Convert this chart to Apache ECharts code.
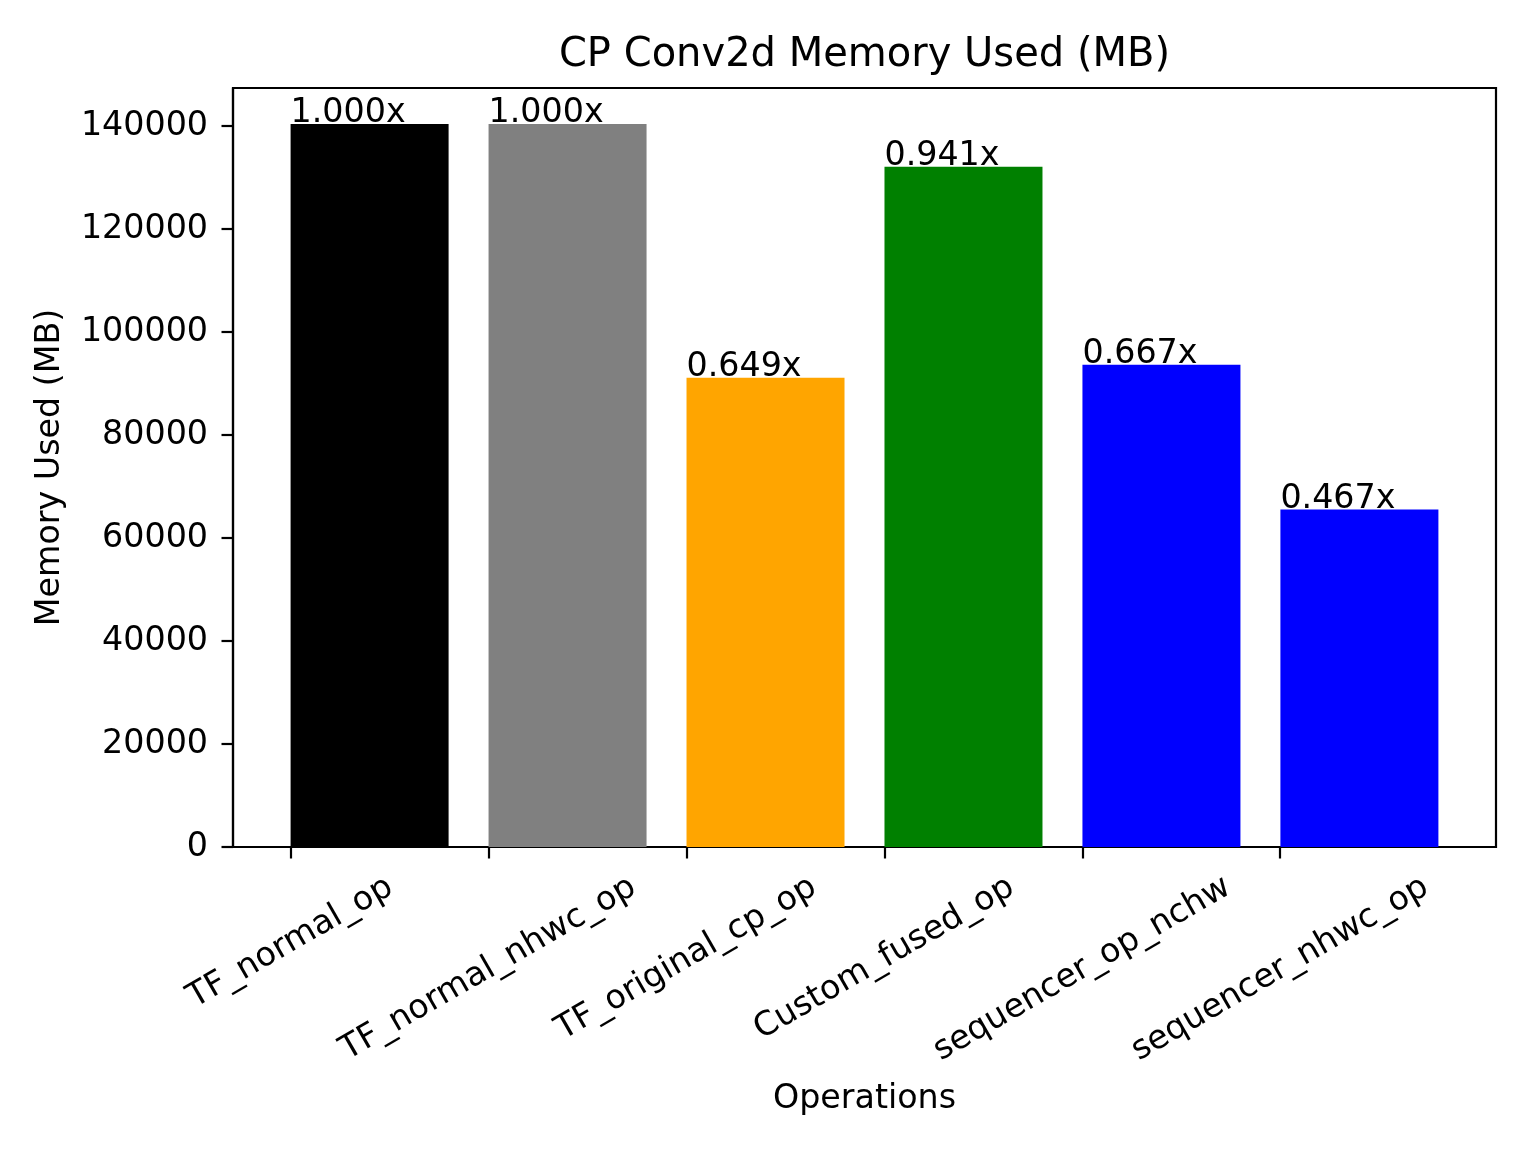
<!DOCTYPE html>
<html>
<head>
<meta charset="utf-8">
<script src="https://cdn.jsdelivr.net/npm/echarts@6/dist/echarts.min.js"></script>
<style>
  html, body { margin: 0; padding: 0; background: #fff; }
  #main { width: 1536px; height: 1152px; }
</style>
</head>
<body>
<div id="main"></div>
<script>
const operations = ['TF_normal_op', 'TF_normal_nhwc_op', 'TF_original_cp_op', 'Custom_fused_op', 'sequencer_op_nchw', 'sequencer_nhwc_op']
const memoryUsed = [140390, 140390, 91110, 132100, 93640, 65560]
const ratioLabels = ['1.000x', '1.000x', '0.649x', '0.941x', '0.667x', '0.467x']
const barColors = ['#000000', '#808080', '#ffa500', '#008000', '#0000ff', '#0000ff']
const yTicks = [0, 20000, 40000, 60000, 80000, 100000, 120000, 140000]
const xTicks = [0, 1, 2, 3, 4, 5]

const FONT = 'DejaVu Sans'
const FS = 33.3
const TITLE_FS = 40
const TITLE = 'CP Conv2d Memory Used (MB)'

const ctx = document.createElement('canvas').getContext('2d')

// matplotlib centres rotated tick labels on the tick; shift each one with padding
ctx.font = FS + 'px "' + FONT + '"'
const rich = {}
operations.forEach((name, i) => {
  const w = ctx.measureText(name).width
  rich['l' + i] = {
    fontFamily: FONT,
    fontSize: FS,
    color: '#000',
    padding: [0.433 * w, 0.25 * w, 0, 0]
  }
})

// title centred over the plot area (233..1496)
ctx.font = TITLE_FS + 'px "' + FONT + '"'
const titleW = ctx.measureText(TITLE).width
const titleLeft = (233 + 1496) / 2 - titleW / 2

const chart = echarts.init(document.getElementById('main'))

const option = {
  animation: false,
  textStyle: { fontFamily: FONT },
  title: {
    text: TITLE,
    left: titleLeft,
    top: 36,
    padding: 0,
    textAlign: 'left',
    textStyle: { fontFamily: FONT, fontSize: TITLE_FS, fontWeight: 'normal', color: '#000' }
  },
  grid: {
    left: 233,
    right: 40,
    top: 88,
    bottom: 305,
    show: true,
    borderColor: '#000',
    borderWidth: 2.2,
    backgroundColor: 'transparent'
  },
  xAxis: {
    type: 'value',
    min: -0.29,
    max: 6.09,
    name: 'Operations',
    nameLocation: 'middle',
    nameGap: 236,
    nameTextStyle: { fontFamily: FONT, fontSize: FS, color: '#000', verticalAlign: 'top' },
    splitLine: { show: false },
    axisLine: { show: true, onZero: false, lineStyle: { color: '#000', width: 2.2 } },
    axisTick: { show: true, length: 11.5, lineStyle: { color: '#000', width: 2.2 }, customValues: xTicks },
    axisLabel: {
      customValues: xTicks,
      rotate: 30,
      align: 'center',
      verticalAlign: 'middle',
      margin: 38,
      fontFamily: FONT,
      fontSize: FS,
      color: '#000',
      formatter: v => {
        const i = Math.round(v)
        return '{l' + i + '|' + operations[i] + '}'
      },
      rich: rich
    }
  },
  yAxis: {
    type: 'value',
    min: 0,
    max: 147400,
    name: 'Memory Used (MB)',
    nameLocation: 'middle',
    nameGap: 166,
    nameTextStyle: { fontFamily: FONT, fontSize: FS, color: '#000' },
    splitLine: { show: false },
    axisLine: { show: true, onZero: false, lineStyle: { color: '#000', width: 2.2 } },
    axisTick: { show: true, length: 11.5, lineStyle: { color: '#000', width: 2.2 }, customValues: yTicks },
    axisLabel: {
      customValues: yTicks,
      margin: 25,
      fontFamily: FONT,
      fontSize: FS,
      color: '#000',
      formatter: v => String(v)
    }
  },
  series: [
    {
      type: 'bar',
      barWidth: 158,
      data: memoryUsed.map((v, i) => ({
        value: [i + 0.4, v],
        itemStyle: { color: barColors[i] },
        label: { formatter: ratioLabels[i] }
      })),
      label: {
        show: true,
        position: [0, 6],
        align: 'left',
        verticalAlign: 'bottom',
        fontFamily: FONT,
        fontSize: FS,
        color: '#000'
      }
    }
  ]
}

chart.setOption(option)
</script>
</body>
</html>
